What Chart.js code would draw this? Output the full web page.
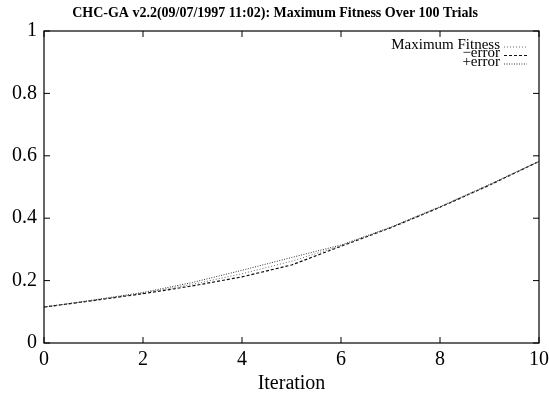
<!DOCTYPE html>
<html>
<head>
<meta charset="utf-8">
<script src="https://cdn.jsdelivr.net/npm/chart.js@4.4.1/dist/chart.umd.min.js"></script>
<style>
  html, body { margin: 0; padding: 0; background: #fff; }
  #wrap { width: 549px; height: 396px; }
</style>
</head>
<body>
<div id="wrap"><canvas id="c" width="549" height="396"></canvas></div>
<script>
const iterations = [0, 1, 2, 3, 4, 5, 6, 7, 8, 9, 10];
const maxFitness = [0.115, 0.137, 0.160, 0.188, 0.222, 0.262, 0.312, 0.370, 0.436, 0.507, 0.582];
const minusError = [0.115, 0.136, 0.158, 0.183, 0.212, 0.250, 0.310, 0.369, 0.435, 0.506, 0.582];
const plusError  = [0.115, 0.138, 0.162, 0.194, 0.233, 0.274, 0.314, 0.371, 0.437, 0.508, 0.582];
const xTicks = [0, 2, 4, 6, 8, 10];
const yTicks = [0, 0.2, 0.4, 0.6, 0.8, 1];

const titleText = 'CHC-GA v2.2(09/07/1997 11:02): Maximum Fitness Over 100 Trials';
const SERIF = '"Liberation Serif", "DejaVu Serif", serif';

// frame, inward ticks on all four sides, title and legend (gnuplot look)
const framePlugin = {
  id: 'frame',
  afterDraw(chart) {
    const { ctx, chartArea: a, scales: { x, y } } = chart;
    ctx.save();
    ctx.strokeStyle = '#000';
    ctx.lineWidth = 1.2;
    ctx.strokeRect(a.left, a.top, a.right - a.left, a.bottom - a.top);
    ctx.lineWidth = 1;
    ctx.beginPath();
    xTicks.forEach(v => {
      const px = x.getPixelForValue(v);
      ctx.moveTo(px, a.bottom); ctx.lineTo(px, a.bottom - 6);
      ctx.moveTo(px, a.top); ctx.lineTo(px, a.top + 6);
    });
    yTicks.forEach(v => {
      const py = y.getPixelForValue(v);
      ctx.moveTo(a.left, py); ctx.lineTo(a.left + 6, py);
      ctx.moveTo(a.right, py); ctx.lineTo(a.right - 6, py);
    });
    ctx.stroke();

    // title
    ctx.fillStyle = '#000';
    ctx.font = 'bold 14px ' + SERIF;
    ctx.textAlign = 'center';
    ctx.textBaseline = 'middle';
    ctx.fillText(titleText, 275, 13);

    // legend: text right-aligned, then line sample
    ctx.font = '15px ' + SERIF;
    ctx.textAlign = 'right';
    chart.data.datasets.forEach((ds, i) => {
      const ty = 45 + i * 8.5;
      ctx.fillText(ds.label, 500, ty);
      ctx.strokeStyle = ds.borderColor;
      ctx.lineWidth = ds.borderWidth;
      ctx.setLineDash(ds.borderDash);
      ctx.beginPath();
      ctx.moveTo(504, ty + 2); ctx.lineTo(527, ty + 2);
      ctx.stroke();
      ctx.setLineDash([]);
    });
    ctx.restore();
  }
};

new Chart(document.getElementById('c'), {
  type: 'line',
  data: {
    labels: iterations,
    datasets: [
      { label: 'Maximum Fitness', data: maxFitness, borderColor: '#666', borderWidth: 1, borderDash: [1, 2], pointRadius: 0, tension: 0 },
      { label: '\u2212error', data: minusError, borderColor: '#111', borderWidth: 1.2, borderDash: [3, 2], pointRadius: 0, tension: 0 },
      { label: '+error', data: plusError, borderColor: '#333', borderWidth: 1, borderDash: [1, 1.5], pointRadius: 0, tension: 0 }
    ].map(d => ({ ...d, data: d.data.map((v, i) => ({ x: iterations[i], y: v })) }))
  },
  options: {
    responsive: false,
    animation: false,
    layout: { padding: { top: 31, right: 10, left: 0, bottom: 0 } },
    plugins: { legend: { display: false }, title: { display: false }, tooltip: { enabled: false } },
    scales: {
      x: {
        type: 'linear', min: 0, max: 10,
        afterFit: s => { s.height = 53; s.paddingRight = 0; s.paddingLeft = 0; },
        afterBuildTicks: s => { s.ticks = xTicks.map(v => ({ value: v })); },
        grid: { display: false, drawTicks: false },
        border: { display: false },
        ticks: { color: '#000', font: { family: SERIF, size: 20 }, padding: 5, maxRotation: 0 },
        title: { display: true, text: 'Iteration', color: '#000', font: { family: SERIF, size: 20 }, padding: { top: 0, bottom: 0 } }
      },
      y: {
        min: 0, max: 1,
        afterFit: s => { s.width = 44; },
        afterBuildTicks: s => { s.ticks = yTicks.map(v => ({ value: v })); },
        grid: { display: false, drawTicks: false },
        border: { display: false },
        ticks: { color: '#000', font: { family: SERIF, size: 20 }, padding: 7, callback: v => String(v) }
      }
    }
  },
  plugins: [framePlugin]
});
</script>
</body>
</html>
